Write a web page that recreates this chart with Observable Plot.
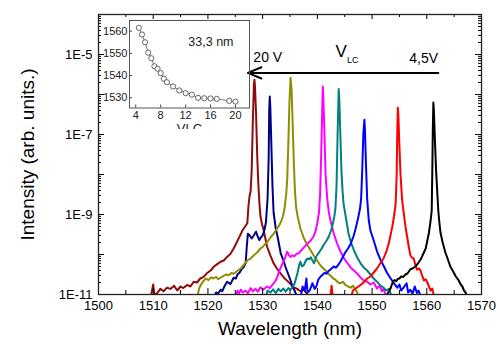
<!DOCTYPE html>
<html><head><meta charset="utf-8">
<script src="https://cdn.jsdelivr.net/npm/d3@7"></script>
<script src="https://cdn.jsdelivr.net/npm/@observablehq/plot@0.6"></script>
<style>
body{margin:0;background:#fff;}
#wrap{position:relative;width:500px;height:345px;overflow:hidden;font-family:"Liberation Sans",Arial,sans-serif;}
#inset{position:absolute;left:100px;top:15px;width:152px;height:114px;overflow:hidden;}
</style></head><body><div id="wrap"><div id="main"></div><div id="inset"></div></div>
<script>
// ---- axis ticks ----
const xTickLabels = [1500,1510,1520,1530,1540,1550,1560,1570];
const xMinorTicks = [1505,1515,1525,1535,1545,1555,1565];
const yTickLabels = [1e-11,1e-9,1e-7,1e-5];
const yDecades = [-11,-10,-9,-8,-7,-6,-5,-4];
const insetXTicks = [4,8,12,16,20];
const insetYTicks = [1530,1540,1550,1560];

// ---- spectra: [wavelength nm, log10 intensity] ----
const spec20 = [[1509.5,-11.1],[1510.0,-10.75],[1510.2,-11.0],[1510.7,-10.97],[1511.3,-10.86],[1511.9,-10.92],[1512.5,-10.83],[1513.2,-10.86],[1513.8,-10.78],[1514.4,-10.9],[1515.0,-10.8],[1515.5,-10.84],[1516.2,-10.76],[1516.8,-10.8],[1517.4,-10.68],[1518.0,-10.7],[1518.6,-10.6],[1519.2,-10.56],[1519.8,-10.47],[1520.5,-10.4],[1521.1,-10.3],[1521.7,-10.24],[1522.3,-10.18],[1522.9,-10.15],[1523.5,-10.06],[1524.1,-9.99],[1524.7,-9.85],[1525.4,-9.66],[1525.9,-9.52],[1526.3,-9.4],[1526.8,-9.3],[1527.2,-9.22],[1527.4,-8.8],[1527.6,-8.55],[1527.8,-8.42],[1528.0,-7.9],[1528.2,-6.7],[1528.4,-5.75],[1528.5,-5.63],[1528.6,-5.8],[1528.8,-6.5],[1529.0,-7.5],[1529.2,-8.2],[1529.4,-8.7],[1529.6,-9.05],[1529.9,-9.25],[1530.2,-9.4],[1530.8,-9.8],[1531.4,-10.02],[1532.0,-10.22],[1532.6,-10.35],[1533.3,-10.48],[1533.9,-10.58],[1534.5,-10.66],[1535.1,-10.74],[1535.7,-10.82],[1536.3,-10.86],[1536.9,-10.92],[1537.5,-10.88],[1538.1,-10.98],[1538.5,-11.1]];
const spec13 = [[1521.0,-11.1],[1521.5,-10.95],[1521.9,-10.97],[1522.3,-10.88],[1522.6,-10.92],[1523.0,-10.8],[1523.5,-10.68],[1524.1,-10.74],[1524.7,-10.58],[1525.1,-10.6],[1525.4,-10.5],[1525.8,-10.45],[1526.1,-10.38],[1526.5,-10.32],[1526.9,-10.22],[1527.1,-9.8],[1527.3,-9.48],[1527.6,-9.52],[1528.0,-9.6],[1528.4,-9.52],[1528.8,-9.43],[1529.1,-9.55],[1529.4,-9.64],[1529.7,-9.57],[1530.0,-9.52],[1530.3,-9.4],[1530.6,-9.2],[1530.9,-8.6],[1531.1,-7.6],[1531.2,-6.4],[1531.3,-6.05],[1531.4,-6.3],[1531.6,-7.3],[1531.8,-8.3],[1532.0,-8.95],[1532.4,-9.35],[1532.8,-9.6],[1533.3,-9.97],[1533.8,-10.15],[1534.2,-10.32],[1534.7,-10.5],[1535.1,-10.65],[1535.5,-10.82],[1535.9,-10.92],[1536.4,-11.1]];
const spec10 = [[1518.0,-11.1],[1518.4,-10.85],[1518.7,-10.76],[1519.2,-10.66],[1519.6,-10.6],[1520.1,-10.64],[1520.6,-10.57],[1521.0,-10.6],[1521.5,-10.56],[1521.9,-10.62],[1522.4,-10.57],[1522.8,-10.54],[1523.3,-10.5],[1523.8,-10.52],[1524.3,-10.46],[1524.7,-10.48],[1525.3,-10.42],[1526.0,-10.35],[1526.6,-10.25],[1527.2,-10.15],[1527.8,-10.1],[1528.3,-10.03],[1529.0,-9.95],[1529.6,-9.85],[1530.1,-9.8],[1530.5,-9.73],[1531.0,-9.66],[1531.4,-9.58],[1531.9,-9.5],[1532.4,-9.4],[1532.9,-9.3],[1533.3,-9.2],[1533.7,-9.05],[1534.0,-8.85],[1534.3,-8.5],[1534.5,-8.1],[1534.7,-7.2],[1534.9,-6.2],[1535.1,-5.58],[1535.3,-5.9],[1535.5,-6.8],[1535.7,-7.7],[1535.9,-8.4],[1536.1,-8.8],[1536.4,-9.05],[1536.9,-9.35],[1537.5,-9.58],[1538.1,-9.75],[1538.8,-9.9],[1539.3,-10.02],[1539.7,-10.1],[1540.2,-10.2],[1540.6,-10.28],[1541.1,-10.35],[1541.5,-10.4],[1542.0,-10.48],[1542.4,-10.53],[1542.9,-10.6],[1543.3,-10.63],[1543.8,-10.7],[1544.2,-10.72],[1544.7,-10.68],[1545.1,-10.76],[1545.6,-10.8],[1546.1,-10.83],[1546.5,-10.78],[1547.0,-10.88],[1547.3,-10.95],[1547.5,-11.1]];
const spec8 = [[1525.0,-11.1],[1525.4,-10.9],[1525.7,-10.97],[1526.0,-10.88],[1526.4,-10.95],[1526.9,-10.9],[1527.3,-10.97],[1527.8,-10.84],[1528.2,-10.92],[1528.7,-10.86],[1529.1,-10.93],[1529.6,-10.82],[1530.1,-10.88],[1530.8,-10.8],[1531.3,-10.84],[1532.0,-10.72],[1532.4,-10.65],[1532.7,-10.56],[1533.0,-10.42],[1533.3,-10.33],[1533.9,-10.15],[1534.3,-10.0],[1534.5,-9.93],[1534.8,-10.02],[1535.1,-10.06],[1535.5,-10.02],[1535.8,-10.05],[1536.2,-9.98],[1536.6,-9.97],[1537.0,-9.9],[1537.5,-9.83],[1538.1,-9.74],[1538.8,-9.65],[1539.3,-9.55],[1539.7,-9.4],[1540.0,-9.2],[1540.3,-8.95],[1540.5,-8.5],[1540.7,-7.5],[1540.9,-6.3],[1541.0,-5.8],[1541.1,-6.1],[1541.3,-7.0],[1541.5,-8.0],[1541.8,-8.6],[1542.1,-8.95],[1542.4,-9.15],[1543.0,-9.48],[1543.6,-9.72],[1544.2,-9.92],[1544.8,-10.08],[1545.4,-10.2],[1546.1,-10.33],[1546.7,-10.4],[1547.3,-10.48],[1547.9,-10.58],[1548.5,-10.65],[1549.1,-10.68],[1549.7,-10.75],[1550.3,-10.7],[1550.9,-10.85],[1551.4,-10.78],[1551.8,-10.92],[1552.1,-10.85],[1552.6,-11.1]];
const spec7 = [[1530.5,-11.1],[1530.9,-10.9],[1531.4,-10.95],[1531.9,-10.87],[1532.4,-10.96],[1532.9,-10.86],[1533.3,-10.92],[1533.8,-10.85],[1534.2,-10.93],[1534.7,-10.84],[1535.1,-10.88],[1535.5,-10.8],[1535.8,-10.74],[1536.1,-10.6],[1536.4,-10.45],[1536.7,-10.25],[1536.9,-10.18],[1537.2,-10.3],[1537.5,-10.27],[1537.9,-10.15],[1538.2,-10.1],[1538.5,-10.12],[1538.8,-10.07],[1539.1,-10.15],[1539.4,-10.22],[1539.8,-10.05],[1540.3,-9.95],[1540.8,-9.85],[1541.2,-9.75],[1541.7,-9.65],[1542.1,-9.55],[1542.5,-9.4],[1542.8,-9.25],[1543.1,-9.05],[1543.3,-8.85],[1543.5,-8.3],[1543.7,-7.0],[1543.9,-5.86],[1544.0,-6.1],[1544.2,-7.0],[1544.4,-7.9],[1544.6,-8.4],[1544.8,-8.75],[1545.1,-8.98],[1545.7,-9.48],[1546.2,-9.72],[1546.7,-9.9],[1547.3,-10.08],[1547.9,-10.22],[1548.5,-10.33],[1549.1,-10.4],[1549.7,-10.5],[1550.3,-10.6],[1550.9,-10.68],[1551.5,-10.77],[1552.0,-10.82],[1552.6,-10.9],[1553.1,-10.86],[1553.7,-11.1]];
const spec6 = [[1536.9,-11.1],[1537.3,-10.8],[1537.7,-10.9],[1538.0,-10.6],[1538.2,-10.95],[1538.6,-10.9],[1539.1,-10.72],[1539.5,-10.86],[1539.8,-10.8],[1540.2,-10.62],[1540.6,-10.55],[1541.0,-10.5],[1541.3,-10.46],[1541.7,-10.48],[1542.0,-10.42],[1542.5,-10.36],[1543.0,-10.3],[1543.4,-10.33],[1543.7,-10.28],[1544.2,-10.18],[1544.7,-10.05],[1545.1,-9.95],[1545.6,-9.85],[1546.1,-9.73],[1546.6,-9.55],[1547.0,-9.35],[1547.4,-9.12],[1547.8,-8.85],[1548.0,-8.6],[1548.2,-7.9],[1548.4,-7.0],[1548.6,-6.63],[1548.7,-6.9],[1548.9,-7.8],[1549.1,-8.6],[1549.4,-9.15],[1549.7,-9.4],[1550.3,-9.65],[1550.9,-9.92],[1551.5,-10.12],[1552.1,-10.28],[1552.7,-10.45],[1553.4,-10.6],[1554.0,-10.72],[1554.6,-10.83],[1555.0,-10.75],[1555.3,-10.9],[1555.8,-10.82],[1556.3,-10.72],[1556.6,-10.95],[1557.0,-10.88],[1557.4,-10.98],[1557.8,-10.8],[1558.2,-10.96],[1558.5,-10.9],[1559.0,-11.1]];
const spec55 = [[1542.3,-11.15],[1542.6,-10.78],[1542.9,-11.15],[1546.0,-11.15],[1546.5,-10.9],[1547.0,-10.85],[1547.3,-10.82],[1547.7,-10.78],[1548.1,-10.74],[1548.6,-10.68],[1549.1,-10.6],[1549.7,-10.55],[1550.3,-10.45],[1550.9,-10.35],[1551.5,-10.22],[1552.1,-10.1],[1552.6,-9.93],[1553.0,-9.75],[1553.4,-9.5],[1553.7,-9.3],[1554.0,-9.05],[1554.3,-8.75],[1554.5,-8.0],[1554.6,-7.0],[1554.7,-6.33],[1554.8,-6.5],[1555.0,-7.3],[1555.2,-8.0],[1555.5,-8.65],[1555.8,-8.98],[1556.1,-9.3],[1556.4,-9.55],[1556.7,-9.8],[1557.0,-10.02],[1557.3,-10.08],[1557.6,-10.1],[1557.9,-10.25],[1558.2,-10.38],[1558.6,-10.35],[1558.9,-10.42],[1559.2,-10.55],[1559.5,-10.65],[1559.8,-10.62],[1560.1,-10.7],[1560.4,-10.8],[1560.7,-10.9],[1561.0,-10.85],[1561.4,-11.1]];
const spec45 = [[1552.4,-11.15],[1552.8,-10.98],[1553.2,-10.9],[1553.5,-10.8],[1553.8,-10.68],[1554.1,-10.64],[1554.4,-10.67],[1554.7,-10.61],[1555.0,-10.6],[1555.3,-10.55],[1555.7,-10.56],[1556.1,-10.5],[1556.5,-10.47],[1557.0,-10.37],[1557.4,-10.35],[1557.9,-10.3],[1558.4,-10.22],[1558.9,-10.12],[1559.3,-10.0],[1559.8,-9.85],[1560.1,-9.65],[1560.4,-9.45],[1560.7,-9.15],[1560.9,-8.9],[1561.0,-8.0],[1561.1,-6.9],[1561.2,-6.2],[1561.3,-6.4],[1561.5,-7.2],[1561.7,-7.9],[1561.9,-8.4],[1562.1,-8.9],[1562.3,-9.2],[1562.5,-9.45],[1562.9,-9.7],[1563.4,-9.95],[1563.8,-10.1],[1564.3,-10.3],[1564.8,-10.42],[1565.3,-10.55],[1565.7,-10.62],[1566.2,-10.75],[1566.5,-10.8],[1566.8,-10.9],[1567.1,-10.95],[1567.4,-11.1]];

const seriesData = [spec20, spec13, spec10, spec8, spec7, spec6, spec55, spec45];
const seriesColors = ["#8f0a0a", "#000085", "#8e8e00", "#ff00ff", "#008080", "#0000ff", "#ff0000", "#000000"];

// ---- inset: peak wavelength vs VLC ----
const insetV = [4.5,5,5.5,6,6.5,7,7.5,8,8.5,9,10,11,12,13,14,15,16,17,19,20];
const insetPeak = [1561.5,1558.5,1555.0,1550.3,1547.8,1544.2,1543.1,1541.1,1538.6,1537.0,1535.1,1533.3,1532.1,1531.4,1530.0,1529.8,1529.7,1529.5,1528.6,1528.3];

// ---- annotations ----
const annoText = ["20 V", "V", "LC", "4,5V"];
const annoX = [1528.3, 1543.3, 1545.4, 1556.8];
const annoLogY = [-5.19, -5.07, -5.2, -5.21];
const annoSize = [14, 17, 9, 14];
const arrowFrom = [1562.1, -5.46];
const arrowTo = [1527.3, -5.46];

const W = 500, H = 345, mL = 98, mR = 19, mT = 14, mB = 51;
const fw = W - mL - mR, fh = H - mT - mB;
const yMinor = [];
yDecades.slice(0, -1).forEach(d => { for (let k = 2; k <= 9; k++) yMinor.push(k * 10 ** d); });
const yMajor = yDecades.map(d => 10 ** d);
const font = "'Liberation Sans', Arial, sans-serif";

const lineMarks = seriesData.map((s, i) => Plot.line(s, {
  x: d => d[0], y: d => 10 ** d[1], stroke: seriesColors[i], strokeWidth: 2, clip: true, strokeLinejoin: "round"
}));

const main = Plot.plot({
  width: W, height: H, marginLeft: mL, marginRight: mR, marginTop: mT, marginBottom: mB,
  style: {fontFamily: font, background: "transparent", color: "black"},
  x: {domain: [1500, 1570]},
  y: {type: "log", domain: [1e-11, 1e-4]},
  marks: [
    ...lineMarks,
    Plot.axisX({ticks: xTickLabels, tickSize: 0, tickPadding: 6, fontSize: 13, label: null, tickFormat: d => String(d)}),
    Plot.axisY({ticks: yTickLabels, tickSize: 0, tickPadding: 6, fontSize: 13, label: null, tickFormat: d => "1E" + Math.round(Math.log10(d))}),
    Plot.tickX(xTickLabels, {x: d => d, insetTop: fh - 6, stroke: "black"}),
    Plot.tickX(xTickLabels, {x: d => d, insetBottom: fh - 5, stroke: "black"}),
    Plot.tickX(xMinorTicks, {x: d => d, insetTop: fh - 4, stroke: "black"}),
    Plot.tickX(xMinorTicks, {x: d => d, insetBottom: fh - 3, stroke: "black"}),
    Plot.tickY(yMajor, {y: d => d, insetRight: fw - 6, stroke: "black"}),
    Plot.tickY(yMajor, {y: d => d, insetLeft: fw - 6, stroke: "black"}),
    Plot.tickY(yMinor, {y: d => d, insetRight: fw - 3, stroke: "black"}),
    Plot.tickY(yMinor, {y: d => d, insetLeft: fw - 3, stroke: "black"}),
    Plot.frame({stroke: "#222", strokeWidth: 1.3}),
    Plot.arrow([0], {x1: () => arrowFrom[0], y1: () => 10 ** arrowFrom[1], x2: () => arrowTo[0], y2: () => 10 ** arrowTo[1],
      stroke: "black", strokeWidth: 2, headLength: 11, headAngle: 45}),
    Plot.text(annoText, {x: (d, i) => annoX[i], y: (d, i) => 10 ** annoLogY[i], text: d => d,
      fontSize: (d, i) => annoSize[i], textAnchor: "start", lineAnchor: "bottom", fill: "black"}),
    Plot.text(["Intensity (arb. units.)"], {frameAnchor: "left", dx: -71, rotate: -90, textAnchor: "middle", lineAnchor: "middle", text: d => d, fontSize: 19, fill: "black"}),
    Plot.text(["Wavelength (nm)"], {frameAnchor: "bottom", dy: 40, textAnchor: "middle", text: d => d, fontSize: 19, fill: "black"})
  ]
});
document.getElementById("main").appendChild(main);

// inset
const iW = 152, iH = 114, imL = 29, imR = 3, imT = 5, imB = 21.5;
const ifw = iW - imL - imR, ifh = iH - imT - imB;
const insetPts = insetV.map((v, i) => ({v, p: insetPeak[i]}));
const inset = Plot.plot({
  width: iW, height: iH, marginLeft: imL, marginRight: imR, marginTop: imT, marginBottom: imB,
  style: {fontFamily: font, background: "transparent", color: "#222", overflow: "hidden"},
  x: {domain: [3, 22.25]},
  y: {domain: [1525.4, 1564.8]},
  marks: [
    Plot.axisX({ticks: insetXTicks, tickSize: 0, tickPadding: 3, fontSize: 11, label: null, tickFormat: d => String(d)}),
    Plot.axisY({ticks: insetYTicks, tickSize: 0, tickPadding: 2, fontSize: 11, label: null, tickFormat: d => String(d)}),
    Plot.tickX(insetXTicks, {x: d => d, insetTop: ifh - 3, stroke: "#444"}),
    Plot.tickY(insetYTicks, {y: d => d, insetRight: ifw - 3, stroke: "#444"}),
    Plot.line(insetPts, {x: "v", y: "p", stroke: "#555", strokeWidth: 0.8}),
    Plot.dot(insetPts, {x: "v", y: "p", r: 2.6, stroke: "#555", strokeWidth: 0.9, fill: "white"}),
    Plot.frame({stroke: "#555", strokeWidth: 1}),
    Plot.text(["33,3 nm"], {frameAnchor: "top-right", dx: -16, dy: 17, lineAnchor: "top", text: d => d, fontSize: 12.5, fill: "#222"}),
    Plot.text(["VLC"], {frameAnchor: "bottom", dy: 16, lineAnchor: "top", text: d => d, fontSize: 13, fill: "#222"})
  ]
});
document.getElementById("inset").appendChild(inset);
</script></body></html>
